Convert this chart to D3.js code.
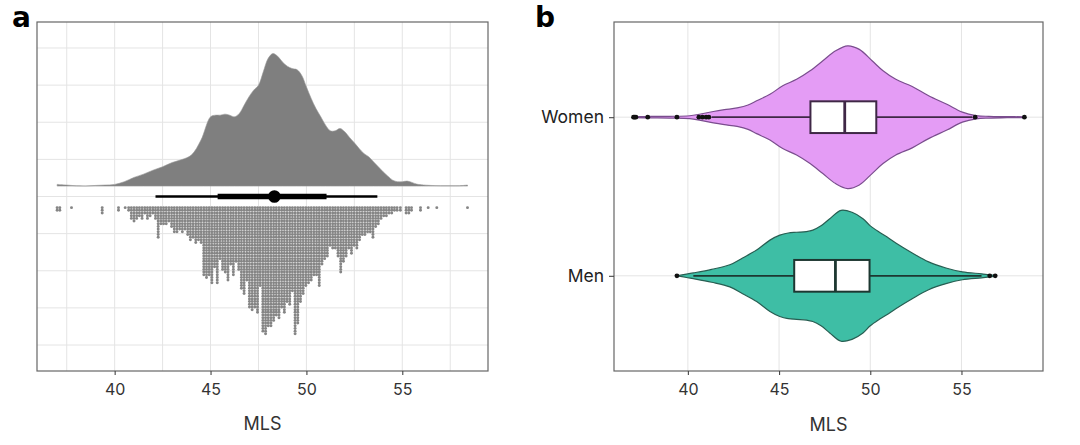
<!DOCTYPE html>
<html><head><meta charset="utf-8">
<script src="https://cdn.jsdelivr.net/npm/d3@7"></script>
<style>
html,body{margin:0;padding:0;background:#fff;}
svg{display:block;font-family:Inter,"Liberation Sans",Arial,sans-serif;}
</style></head>
<body><svg id="c" width="1080" height="445"></svg>
<script>
// ---------------- DATA ----------------
const xTicks = [40, 45, 50, 55];
const xMinorA = [37.5, 40, 42.5, 45, 47.5, 50, 52.5, 55, 57.5];
// Panel a: density (relative) of MLS
const densX = [37.0,37.5,38,38.5,39,39.5,40,40.5,41,41.5,42,42.5,43,43.5,44,44.5,45,45.25,45.5,45.75,46,46.25,46.5,46.75,47,47.25,47.5,47.75,48,48.25,48.5,48.75,49,49.25,49.5,49.75,50,50.25,50.5,50.75,51,51.25,51.5,51.75,52,52.25,52.5,52.75,53,53.25,53.5,53.75,54,54.25,54.5,54.75,55,55.25,55.5,55.75,56,56.5,57,57.5,58,58.4];
const densY = [0.013,0.008,0.002,0.001,0.005,0.008,0.013,0.033,0.065,0.09,0.12,0.146,0.178,0.2,0.234,0.347,0.523,0.535,0.535,0.543,0.535,0.523,0.548,0.61,0.673,0.724,0.761,0.862,0.962,1.0,0.98,0.937,0.905,0.887,0.879,0.837,0.749,0.661,0.585,0.523,0.46,0.417,0.417,0.435,0.41,0.367,0.327,0.284,0.246,0.221,0.183,0.146,0.108,0.075,0.045,0.033,0.033,0.038,0.028,0.015,0.01,0.005,0.003,0.003,0.003,0.008];
// Panel a: point + intervals
const pointMLS = 48.33;
const interval66 = [45.37, 51.05];
const interval95 = [42.13, 53.7];
// Panel a: dot columns (binned), start centre and bin width
const dotStart = 40.87;
const dotBin = 0.14;
const dotCounts = [5,6,5,4,5,3,5,4,3,5,12,7,7,7,6,8,10,10,9,10,9,11,13,12,14,13,14,26,27,26,29,23,29,20,24,25,28,22,26,21,24,31,33,28,38,39,38,40,30,47,48,45,45,43,41,42,38,40,36,37,32,48,44,36,33,30,29,28,26,26,30,22,20,19,15,16,16,19,25,21,19,16,18,15,16,13,11,11,10,10,12,8,7,5,4,4,3,3,2,2];
const tailX = [37.0,37.14,37.75,39.35,40.2,40.55,40.73,54.9,55.2,55.34,55.48,55.95,56.35,56.8,58.4];
const tailN = [2,2,1,3,2,1,2,2,3,3,2,2,1,1,1];
// Panel b: groups
const groups = ["Women", "Men"];
const violinX = {
  Women: [37.0,38.0,39.0,40.1,40.7,41.4,42.0,42.7,43.3,43.77,44.5,45.2,45.96,46.7,47.4,48.1,48.76,49.4,50.1,50.7,51.4,52.3,53.2,54.2,55.05,55.8,56.5,57.5,58.45],
  Men:   [39.4,40.3,41.3,42.3,43.0,43.77,44.5,45.04,45.5,45.96,46.5,46.85,47.3,47.78,48.4,49.0,49.6,50.0,50.5,51.0,51.4,52.3,53.2,54.15,55.05,56.1,56.5,56.9]
};
const violinD = {
  Women: [0.008,0.01,0.012,0.02,0.045,0.08,0.105,0.13,0.17,0.23,0.32,0.44,0.53,0.65,0.79,0.93,1.0,0.95,0.79,0.65,0.53,0.43,0.30,0.18,0.07,0.023,0.012,0.008,0.005],
  Men:   [0.0,0.04,0.09,0.155,0.25,0.36,0.5,0.57,0.6,0.61,0.62,0.64,0.7,0.8,0.917,0.89,0.8,0.7,0.61,0.53,0.46,0.32,0.195,0.11,0.055,0.028,0.015,0.005]
};
const boxStats = {
  Women: {lo: 41.3, q1: 46.72, med: 48.6, q3: 50.33, hi: 55.6},
  Men:   {lo: 40.3, q1: 45.83, med: 48.09, q3: 49.96, hi: 56.1}
};
const outliers = {
  Women: [37.02,37.08,37.15,37.8,39.4,40.6,40.8,41.0,41.15,55.75,58.45],
  Men:   [39.4,56.55,56.85]
};
const fills = {Women: "#e49cf5", Men: "#3ebea5"};
const edges = {Women: "#7a4d8e", Men: "#275e52"};
const boxEdges = {Women: "#3f2846", Men: "#1d3731"};

// ---------------- LAYOUT ----------------
const svg = d3.select("#c");
const yTop = 22, yBot = 371;
const A = {l: 37, r: 488};
const B = {l: 614, r: 1043};
const dom = [35.95, 59.47];
const gridCol = "#e4e4e4", borderCol = "#666", textCol = "#333";

// ===== Panel a =====
const xa = d3.scaleLinear().domain(dom).range([A.l, A.r]);
const ya = d3.scaleLinear().domain([-0.47, 0.47]).range([yBot, yTop]);
const ga = svg.append("g");
ga.selectAll("line.v").data(xMinorA).join("line")
  .attr("x1", d => xa(d)).attr("x2", d => xa(d)).attr("y1", yTop).attr("y2", yBot)
  .attr("stroke", gridCol).attr("stroke-width", 1);
ga.selectAll("line.h").data(d3.range(-4, 5).map(k => k / 10)).join("line")
  .attr("x1", A.l).attr("x2", A.r).attr("y1", d => ya(d)).attr("y2", d => ya(d))
  .attr("stroke", gridCol).attr("stroke-width", 1);
const slabBase = 0.028, slabScale = 0.357;
const dens = densX.map((x, i) => [x, densY[i]]);
ga.append("path").datum(dens)
  .attr("d", d3.area().x(d => xa(d[0])).y0(ya(slabBase)).y1(d => ya(slabBase + slabScale * d[1])).curve(d3.curveCatmullRom))
  .attr("fill", "#7f7f7f").attr("stroke", "#999").attr("stroke-width", 0.6);
const rowPx = xa(dotBin) - xa(0);
const dotTop = ya(-0.030);
const dots = [];
dotCounts.forEach((n, i) => { for (let k = 0; k < n; k++) dots.push([dotStart + i * dotBin, k]); });
tailX.forEach((x, i) => { for (let k = 0; k < tailN[i]; k++) dots.push([x, k]); });
ga.selectAll("circle.dot").data(dots).join("circle")
  .attr("cx", d => xa(d[0])).attr("cy", d => dotTop + d[1] * rowPx)
  .attr("r", rowPx * 0.55).attr("fill", "#858585");
ga.append("line").attr("x1", xa(interval95[0])).attr("x2", xa(interval95[1]))
  .attr("y1", ya(0)).attr("y2", ya(0)).attr("stroke", "#000").attr("stroke-width", 2.3);
ga.append("line").attr("x1", xa(interval66[0])).attr("x2", xa(interval66[1]))
  .attr("y1", ya(0)).attr("y2", ya(0)).attr("stroke", "#000").attr("stroke-width", 5.5);
ga.append("circle").attr("cx", xa(pointMLS)).attr("cy", ya(0)).attr("r", 6.3).attr("fill", "#000");
ga.append("rect").attr("x", A.l).attr("y", yTop).attr("width", A.r - A.l).attr("height", yBot - yTop)
  .attr("fill", "none").attr("stroke", borderCol).attr("stroke-width", 1.2);
const axA = ga.append("g").attr("transform", `translate(0,${yBot})`)
  .call(d3.axisBottom(xa).tickValues(xTicks).tickSize(4).tickPadding(9).tickFormat(d3.format("d")));
axA.select(".domain").remove();
axA.selectAll("line").attr("stroke", "#444").attr("stroke-width", 1.1);
axA.selectAll("text").attr("fill", textCol).attr("font-size", 16).attr("font-family", "Inter");
ga.append("text").attr("x", (A.l + A.r) / 2).attr("y", 430).attr("text-anchor", "middle")
  .attr("font-size", 18).attr("fill", textCol).text("MLS");
svg.append("text").attr("x", 12).attr("y", 27).attr("font-size", 28).attr("font-weight", 700)
  .attr("font-family", "DejaVu Sans, Liberation Sans, Arial, sans-serif").attr("fill", "#000").text("a");

// ===== Panel b =====
const xb = d3.scaleLinear().domain(dom).range([B.l, B.r]);
const yb = d3.scalePoint().domain(groups).range([yTop, yBot]).padding(0.6);
const step = yb.step();
const gb = svg.append("g");
gb.selectAll("line.v").data(xTicks).join("line")
  .attr("x1", d => xb(d)).attr("x2", d => xb(d)).attr("y1", yTop).attr("y2", yBot)
  .attr("stroke", gridCol).attr("stroke-width", 1);
gb.selectAll("line.h").data(groups).join("line")
  .attr("x1", B.l).attr("x2", B.r).attr("y1", d => yb(d)).attr("y2", d => yb(d))
  .attr("stroke", gridCol).attr("stroke-width", 1);
groups.forEach(g => {
  const cy = yb(g);
  const hw = 0.45 * step;
  const pts = violinX[g].map((x, i) => [x, violinD[g][i]]);
  gb.append("path").datum(pts)
    .attr("d", d3.area().x(d => xb(d[0])).y0(d => cy + hw * d[1]).y1(d => cy - hw * d[1]).curve(d3.curveCatmullRom))
    .attr("fill", fills[g]).attr("stroke", edges[g]).attr("stroke-width", 1.2);
  const s = boxStats[g];
  const bh = 0.1 * step;
  gb.append("line").attr("x1", xb(s.lo)).attr("x2", xb(s.q1)).attr("y1", cy).attr("y2", cy)
    .attr("stroke", boxEdges[g]).attr("stroke-width", 1.7);
  gb.append("line").attr("x1", xb(s.q3)).attr("x2", xb(s.hi)).attr("y1", cy).attr("y2", cy)
    .attr("stroke", boxEdges[g]).attr("stroke-width", 1.7);
  gb.append("rect").attr("x", xb(s.q1)).attr("y", cy - bh).attr("width", xb(s.q3) - xb(s.q1)).attr("height", 2 * bh)
    .attr("fill", "#fff").attr("stroke", boxEdges[g]).attr("stroke-width", 2);
  gb.append("line").attr("x1", xb(s.med)).attr("x2", xb(s.med)).attr("y1", cy - bh).attr("y2", cy + bh)
    .attr("stroke", boxEdges[g]).attr("stroke-width", 2.8);
  gb.selectAll(null).data(outliers[g]).join("circle")
    .attr("cx", d => xb(d)).attr("cy", cy).attr("r", 2.4).attr("fill", "#111");
});
gb.append("rect").attr("x", B.l).attr("y", yTop).attr("width", B.r - B.l).attr("height", yBot - yTop)
  .attr("fill", "none").attr("stroke", borderCol).attr("stroke-width", 1.2);
const axB = gb.append("g").attr("transform", `translate(0,${yBot})`)
  .call(d3.axisBottom(xb).tickValues(xTicks).tickSize(4).tickPadding(9).tickFormat(d3.format("d")));
axB.select(".domain").remove();
axB.selectAll("line").attr("stroke", "#444").attr("stroke-width", 1.1);
axB.selectAll("text").attr("fill", textCol).attr("font-size", 16).attr("font-family", "Inter");
const ayB = gb.append("g").attr("transform", `translate(${B.l},0)`)
  .call(d3.axisLeft(yb).tickSize(5).tickPadding(5));
ayB.select(".domain").remove();
ayB.selectAll("line").attr("stroke", "#444").attr("stroke-width", 1.1);
ayB.selectAll("text").attr("fill", "#222").attr("font-size", 17.5).attr("font-family", "Inter");
gb.append("text").attr("x", (B.l + B.r) / 2).attr("y", 431).attr("text-anchor", "middle")
  .attr("font-size", 18).attr("fill", textCol).text("MLS");
svg.append("text").attr("x", 535).attr("y", 27).attr("font-size", 28).attr("font-weight", 700)
  .attr("font-family", "DejaVu Sans, Liberation Sans, Arial, sans-serif").attr("fill", "#000").text("b");
</script></body></html>
